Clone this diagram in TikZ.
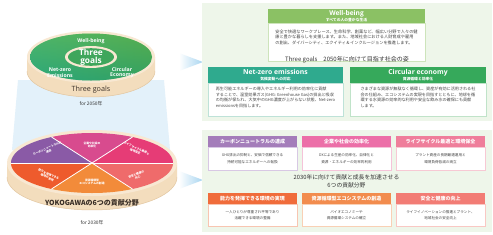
\documentclass[tikz,border=0pt]{standalone}
\usepackage{fontspec}
\setmainfont{Noto Sans CJK JP}
\newfontfamily\latf{Open Sans}
\newcommand{\fsz}[2]{\fontsize{#1}{#2}\selectfont}
\definecolor{panelbg}{HTML}{EEF6EA}
\definecolor{beamblue}{HTML}{E3F1FA}
\definecolor{arrowblue}{HTML}{A6D4F0}
\definecolor{rimtop}{HTML}{F8E8D2}
\definecolor{rimside}{HTML}{F3DDBD}
\definecolor{rimedge}{HTML}{E2C6A0}
\definecolor{gtop}{HTML}{6DBF55}
\definecolor{gbot}{HTML}{2DA676}
\definecolor{gleft}{HTML}{2BAA80}
\definecolor{gright}{HTML}{3C9A48}
\definecolor{gcore}{HTML}{3FA65C}
\definecolor{darktext}{HTML}{3A2F27}
\definecolor{greytext}{HTML}{333333}
\definecolor{bodytext}{HTML}{444444}
\definecolor{wbH}{HTML}{8BC164}\definecolor{wbB}{HTML}{CDE4BB}
\definecolor{nzH}{HTML}{2FAA8E}\definecolor{nzB}{HTML}{BEE2D8}
\definecolor{ceH}{HTML}{36A95B}\definecolor{ceB}{HTML}{C0E3C9}
\definecolor{cnH}{HTML}{A47DBA}\definecolor{cnB}{HTML}{D8C8E4}
\definecolor{efH}{HTML}{EC6FA8}\definecolor{efB}{HTML}{F5C3D9}
\definecolor{lcH}{HTML}{EF7E9B}\definecolor{lcB}{HTML}{F7C9D4}
\definecolor{abH}{HTML}{F06C3B}\definecolor{abB}{HTML}{F8C5B1}
\definecolor{rcH}{HTML}{F28C4E}\definecolor{rcB}{HTML}{F9D0B5}
\definecolor{shH}{HTML}{F27C75}\definecolor{shB}{HTML}{F9C8C4}
\definecolor{pEF}{HTML}{D84B8E}
\definecolor{pLC}{HTML}{E63C76}
\definecolor{pSH}{HTML}{EF6B6B}
\definecolor{pRC}{HTML}{F28B3A}
\definecolor{pAB}{HTML}{EE5B2D}
\definecolor{pCN}{HTML}{8A5AA6}
\begin{document}
\begin{tikzpicture}[x=1pt,y=-1pt,
  hdr/.style={inner sep=0pt, text=white, align=center},
  bighdr/.style={hdr, font=\bfseries\fsz{3.8}{6.4}},
  bodybox/.style={fill=white, line width=0.6pt, inner sep=0pt},
  btext/.style={inner sep=0pt, text=bodytext, align=left},
  ctext/.style={inner sep=0pt, text=bodytext, align=center},
  pielab/.style={inner sep=0pt, text=white, align=center, font=\bfseries\fsz{2.8}{3.5}},
  disklab/.style={inner sep=0pt, text=white, align=center, font=\latf\bfseries\fsz{5.2}{5.6}},
  sechead/.style={inner sep=0pt, text=greytext, align=center},
  sep/.style={white, line width=0.8pt},
  pointer/.style={left color=white, right color=arrowblue}
]
\useasboundingbox[fill=white] (0,0) rectangle (493,234);

% light beam between the two disks
\fill[beamblue] (18,80) -- (164,80) -- (170,150) -- (12,150) -- cycle;

% ---------- top disk (Three goals) ----------
\coordinate (tc) at (91,57);
\fill[rimside] (27,57) -- (27,71) -- plot[domain=0:180,samples=50,variable=\t] ({91-64*cos(\t)},{71+26*sin(\t)}) -- (155,57) -- cycle;
\draw[rimedge, line width=0.5pt] plot[domain=0:180,samples=50,variable=\t] ({91-64*cos(\t)},{71+26*sin(\t)});
\fill[rimtop] (tc) ellipse [x radius=64pt, y radius=26pt];
\shade[top color=gtop, bottom color=gbot] (tc) ellipse [x radius=61pt, y radius=23.5pt];
\shade[left color=gleft, right color=gright, opacity=0.45] (tc) ellipse [x radius=61pt, y radius=23.5pt];
\fill[rimtop] (tc) ellipse [x radius=26pt, y radius=11pt];
\fill[gcore] (tc) ellipse [x radius=23pt, y radius=8.8pt];
\node[inner sep=0pt, text=white, align=center, font=\latf\bfseries\fsz{8.3}{7.6}] (tgcore) at (91,57.5) {Three\\goals};
\node[disklab] (wbl) at (91,41) {Well-being};
\node[disklab] (nzl) at (60,72.5) {Net-zero\\Emissions};
\node[disklab] (cel) at (122,72.5) {Circular\\Economy};
\node[inner sep=0pt, text=darktext, font=\latf\fsz{7.2}{8}] (tgrim) at (91,90) {Three goals};
\node[inner sep=0pt, text=greytext, font=\fsz{4.8}{5}] (tgfor) at (91,104) {for 2050年};

% ---------- bottom disk (six areas) ----------
\coordinate (pc) at (92,163);
\fill[rimside] (7,163) -- (7,177) -- plot[domain=0:180,samples=60,variable=\t] ({92-85*cos(\t)},{177+33*sin(\t)}) -- (177,163) -- cycle;
\draw[rimedge, line width=0.5pt] plot[domain=0:180,samples=60,variable=\t] ({92-85*cos(\t)},{177+33*sin(\t)});
\fill[rimtop] (pc) ellipse [x radius=85pt, y radius=33pt];
\fill[pLC] (pc) -- plot[domain=0:60,samples=25,variable=\t] ({92+81*cos(\t)},{163-30*sin(\t)}) -- cycle;
\fill[pEF] (pc) -- plot[domain=60:120,samples=25,variable=\t] ({92+81*cos(\t)},{163-30*sin(\t)}) -- cycle;
\fill[pCN] (pc) -- plot[domain=120:180,samples=25,variable=\t] ({92+81*cos(\t)},{163-30*sin(\t)}) -- cycle;
\fill[pAB] (pc) -- plot[domain=180:240,samples=25,variable=\t] ({92+81*cos(\t)},{163-30*sin(\t)}) -- cycle;
\fill[pRC] (pc) -- plot[domain=240:300,samples=25,variable=\t] ({92+81*cos(\t)},{163-30*sin(\t)}) -- cycle;
\fill[pSH] (pc) -- plot[domain=300:360,samples=25,variable=\t] ({92+81*cos(\t)},{163-30*sin(\t)}) -- cycle;
\foreach \a in {0,60,...,300}{\draw[sep] (pc) -- ({92+81*cos(\a)},{163-30*sin(\a)});}
\node[pielab] (plef) at (92,145) {企業や社会の\\効率化};
\node[pielab, rotate=-25] (pllc) at (136,150) {ライフサイクル最適と\\環境保全};
\node[pielab, rotate=25] (plsh) at (137,176) {安全と健康の\\向上};
\node[pielab] (plrc) at (92,182) {資源循環型\\エコシステムの創造};
\node[pielab, rotate=-25] (plab) at (48,176) {能力を発揮できる\\環境の実現};
\node[pielab, rotate=25] (plcn) at (48,150) {カーボンニュートラルの\\達成};
\node[inner sep=0pt, text=darktext, font=\bfseries\fsz{7}{8}] (yrim) at (92,203) {YOKOGAWAの6つの貢献分野};
\node[inner sep=0pt, text=greytext, font=\fsz{4.8}{5}] (yfor) at (92,223) {for 2030年};

% ---------- pointers ----------
\shade[pointer] (179,53) -- (203,62) -- (179,71) -- cycle;
\shade[pointer] (179,171) -- (203,180) -- (179,189) -- cycle;

% ---------- top panel ----------
\fill[panelbg] (202,3) rectangle (492,121);
\node[bodybox, draw=wbB, minimum width=157pt, minimum height=38pt] (wbb) at (346.5,42) {};
\node[bighdr, fill=wbH, minimum width=157pt, minimum height=14pt] (wbh) at (346.5,16) {{\latf\fsz{6.6}{6.6}Well-being}\\すべての人の豊かな生活};
\node[btext, anchor=north, font=\fsz{4.2}{5.6}] (wbt) at (346.5,29.6) {安全で快適なワークプレース、生命科学、創薬など、幅広い分野で人々の健\\康と豊かな暮らしを支援します。また、地域社会における人財育成や雇用\\の創出、ダイバーシティ、エクイティ＆インクルージョンを推進します。};

\node[sechead, font=\fsz{6}{7}] (tgtitle) at (347,60) {Three goals\quad 2050年に向けて目指す社会の姿};

\node[bodybox, draw=nzB, minimum width=135pt, minimum height=33pt] (nzb) at (275.5,99.5) {};
\node[bighdr, fill=nzH, minimum width=135pt, minimum height=16pt] (nzh) at (275.5,75) {{\latf\fsz{6.8}{6.8}Net-zero emissions}\\気候変動への対応};
\node[btext, anchor=north, font=\fsz{4.1}{5.8}] (nzt) at (275.5,86.6) {再生可能エネルギーの導入やエネルギー利用の効率化に貢献\\することで、温室効果ガス(GHG: Greenhouse Gas)の排出と吸収\\の均衡が保たれ、大気中のGHG濃度が上がらない状態、Net-zero\\emissionsを目指します。};

\node[bodybox, draw=ceB, minimum width=136pt, minimum height=33pt] (ceb) at (418,99.5) {};
\node[bighdr, fill=ceH, minimum width=136pt, minimum height=16pt] (ceh) at (418,75) {{\latf\fsz{6.8}{6.8}Circular economy}\\資源循環と効率化};
\node[btext, anchor=north, font=\fsz{4.1}{5.8}] (cet) at (418,86.6) {さまざまな資源が無駄なく循環し、資産が有効に活用される社\\会の仕組み、エコシステムの実現を目指すとともに、地球を循\\環する水資源の効率的な利用や安全な飲み水の確保にも貢献\\します。};

% ---------- bottom panel ----------
\fill[panelbg] (202,130) rectangle (492,232);
\node[bodybox, draw=cnB, minimum width=89pt, minimum height=23pt] (cnb) at (252.5,158.5) {};
\node[hdr, fill=cnH, minimum width=89pt, minimum height=11pt, font=\bfseries\fsz{5}{6}] (cnh) at (252.5,141.5) {カーボンニュートラルの達成};
\node[ctext, font=\fsz{3.6}{7}] (cnt) at (252.5,158.5) {GHG排出の抑制と、安価で信頼できる\\持続可能なエネルギーへの転換};

\node[bodybox, draw=efB, minimum width=89pt, minimum height=23pt] (efb) at (346.5,158.5) {};
\node[hdr, fill=efH, minimum width=89pt, minimum height=11pt, font=\bfseries\fsz{5}{6}] (efh) at (346.5,141.5) {企業や社会の効率化};
\node[ctext, font=\fsz{3.6}{7}] (eft) at (346.5,158.5) {DXによる生産の効率化、自律化と\\資源・エネルギーの効率的利用};

\node[bodybox, draw=lcB, minimum width=89pt, minimum height=23pt] (lcb) at (440.5,158.5) {};
\node[hdr, fill=lcH, minimum width=89pt, minimum height=11pt, font=\bfseries\fsz{5}{6}] (lch) at (440.5,141.5) {ライフサイクル最適と環境保全};
\node[ctext, font=\fsz{3.6}{7}] (lct) at (440.5,158.5) {プラント資産の長期最適運用と\\環境負荷低減の両立};

\node[sechead, font=\fsz{5.8}{8}] (sixtitle) at (346.5,181) {2030年に向けて貢献と成長を加速させる\\6つの貢献分野};

\node[bodybox, draw=abB, minimum width=89pt, minimum height=22pt] (abb) at (252.5,215) {};
\node[hdr, fill=abH, minimum width=89pt, minimum height=11pt, font=\bfseries\fsz{5}{6}] (abh) at (252.5,198.5) {能力を発揮できる環境の実現};
\node[ctext, font=\fsz{3.6}{6}] (abt) at (252.5,215) {一人ひとりが尊重され平等であり\\活躍できる環境の整備};

\node[bodybox, draw=rcB, minimum width=89pt, minimum height=22pt] (rcb) at (346.5,215) {};
\node[hdr, fill=rcH, minimum width=89pt, minimum height=11pt, font=\bfseries\fsz{5}{6}] (rch) at (346.5,198.5) {資源循環型エコシステムの創造};
\node[ctext, font=\fsz{3.6}{6}] (rct) at (346.5,215) {バイオエコノミーや\\資源循環システムの確立};

\node[bodybox, draw=shB, minimum width=89pt, minimum height=22pt] (shb) at (440.5,215) {};
\node[hdr, fill=shH, minimum width=89pt, minimum height=11pt, font=\bfseries\fsz{5}{6}] (shh) at (440.5,198.5) {安全と健康の向上};
\node[ctext, font=\fsz{3.6}{6}] (sht) at (440.5,215) {ライフイノベーションの推進とプラント、\\地域社会の安全向上};
\end{tikzpicture}
\end{document}
